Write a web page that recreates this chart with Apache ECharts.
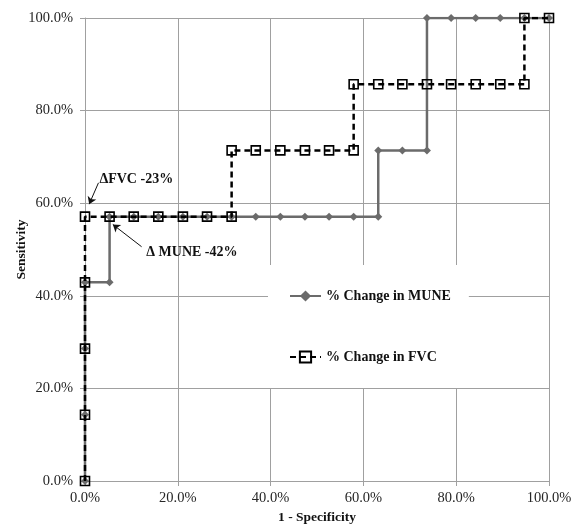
<!DOCTYPE html>
<html><head><meta charset="utf-8">
<script src="https://cdn.jsdelivr.net/npm/echarts@6/dist/echarts.min.js"></script>
<style>html,body{margin:0;padding:0;background:#fff}#c{width:576px;height:525px}</style>
</head><body><div id="c"></div>
<script>
// 1 - Specificity (%) and Sensitivity (%) for each ROC curve
const muneX = [0,0,0,0,5.3,5.3,10.5,15.8,21.1,26.3,31.6,36.8,42.1,47.4,52.6,57.9,63.2,63.2,68.4,73.7,73.7,78.9,84.2,89.5,94.7,100];
const muneY = [0,14.3,28.6,42.9,42.9,57.1,57.1,57.1,57.1,57.1,57.1,57.1,57.1,57.1,57.1,57.1,57.1,71.4,71.4,71.4,100,100,100,100,100,100];
const fvcX = [0,0,0,0,0,5.3,10.5,15.8,21.1,26.3,31.6,31.6,36.8,42.1,47.4,52.6,57.9,57.9,63.2,68.4,73.7,78.9,84.2,89.5,94.7,94.7,100];
const fvcY = [0,14.3,28.6,42.9,57.1,57.1,57.1,57.1,57.1,57.1,57.1,71.4,71.4,71.4,71.4,71.4,71.4,85.7,85.7,85.7,85.7,85.7,85.7,85.7,85.7,100,100];
const xTicks = [0,20,40,60,80,100];
const yTicks = [0,20,40,60,80,100];
const seriesNames = ['% Change in MUNE','% Change in FVC'];
const annotations = [
  {text:'ΔFVC -23%', at:[3.0,65.2], arrowFrom:[2.9,64.4], arrowTo:[0.9,59.8]},
  {text:'Δ MUNE -42%', at:[13.1,49.4], arrowFrom:[12.2,50.6], arrowTo:[6.0,55.4]}
];

const FONT = '"Liberation Serif", "Times New Roman", serif';
const zip = (a,b)=>a.map((v,i)=>[v,b[i]]);
const chart = echarts.init(document.getElementById('c'));
const gridColor = '#a0a0a0';
chart.setOption({
  animation:false,
  backgroundColor:'#fff',
  grid:{left:85,right:27,top:18,bottom:44,outerBoundsMode:'none',containLabel:false},
  xAxis:{type:'value',min:0,max:100,interval:20,
    name:'1 - Specificity',nameLocation:'middle',nameGap:30,nameMoveOverlap:false,
    nameTextStyle:{fontFamily:FONT,fontWeight:'bold',fontSize:13.5,color:'#111'},
    axisLine:{show:true,lineStyle:{color:gridColor,width:1}},
    axisTick:{show:true,length:5,lineStyle:{color:gridColor}},
    splitLine:{show:true,lineStyle:{color:gridColor,width:1}},
    axisLabel:{fontFamily:FONT,fontSize:14.5,color:'#262626',margin:10,
      formatter:v=>xTicks.includes(v)?v.toFixed(1)+'%':''}},
  yAxis:{type:'value',min:0,max:100,interval:20,
    name:'Sensitivity',nameLocation:'middle',nameGap:56,nameMoveOverlap:false,
    nameTextStyle:{fontFamily:FONT,fontWeight:'bold',fontSize:13.5,color:'#111'},
    axisLine:{show:true,lineStyle:{color:gridColor,width:1}},
    axisTick:{show:true,length:5,lineStyle:{color:gridColor}},
    splitLine:{show:true,lineStyle:{color:gridColor,width:1}},
    axisLabel:{fontFamily:FONT,fontSize:14.5,color:'#262626',margin:12,
      formatter:v=>yTicks.includes(v)?v.toFixed(1)+'%':''}},
  legend:{orient:'vertical',left:268,top:265,
    padding:[24,18,24,21],itemGap:47,itemWidth:31,itemHeight:14,
    backgroundColor:'#fff',
    textStyle:{fontFamily:FONT,fontWeight:'bold',fontSize:14,color:'#111'},
    data:seriesNames},
  series:[
    {name:seriesNames[0],type:'line',data:zip(muneX,muneY),
      symbol:'diamond',symbolSize:8,
      lineStyle:{color:'#6b6b6b',width:2.5},
      itemStyle:{color:'#6b6b6b'},z:2,
      markLine:{silent:true,symbol:['none','arrow'],symbolSize:7,
        lineStyle:{color:'#111',width:1,type:'solid'},label:{show:false},
        data:[[{coord:annotations[1].arrowFrom},{coord:annotations[1].arrowTo}]]},
      markPoint:{silent:true,symbol:'circle',symbolSize:1,itemStyle:{color:'rgba(0,0,0,0)'},
        label:{show:true,position:'right',distance:0,formatter:annotations[1].text,
          fontFamily:FONT,fontWeight:'bold',fontSize:14,color:'#111'},
        data:[{coord:annotations[1].at}]}
    },
    {name:seriesNames[1],type:'line',data:zip(fvcX,fvcY),
      symbol:'rect',symbolSize:9,
      lineStyle:{color:'#000',width:2.5,type:[6,4]},
      itemStyle:{color:'rgba(255,255,255,0)',borderColor:'#000',borderWidth:1.6},z:3,
      markLine:{silent:true,symbol:['none','arrow'],symbolSize:7,
        lineStyle:{color:'#111',width:1,type:'solid'},label:{show:false},
        data:[[{coord:annotations[0].arrowFrom},{coord:annotations[0].arrowTo}]]},
      markPoint:{silent:true,symbol:'circle',symbolSize:1,itemStyle:{color:'rgba(0,0,0,0)'},
        label:{show:true,position:'right',distance:0,formatter:annotations[0].text,
          fontFamily:FONT,fontWeight:'bold',fontSize:14,color:'#111'},
        data:[{coord:annotations[0].at}]}
    }
  ]
});
</script></body></html>
